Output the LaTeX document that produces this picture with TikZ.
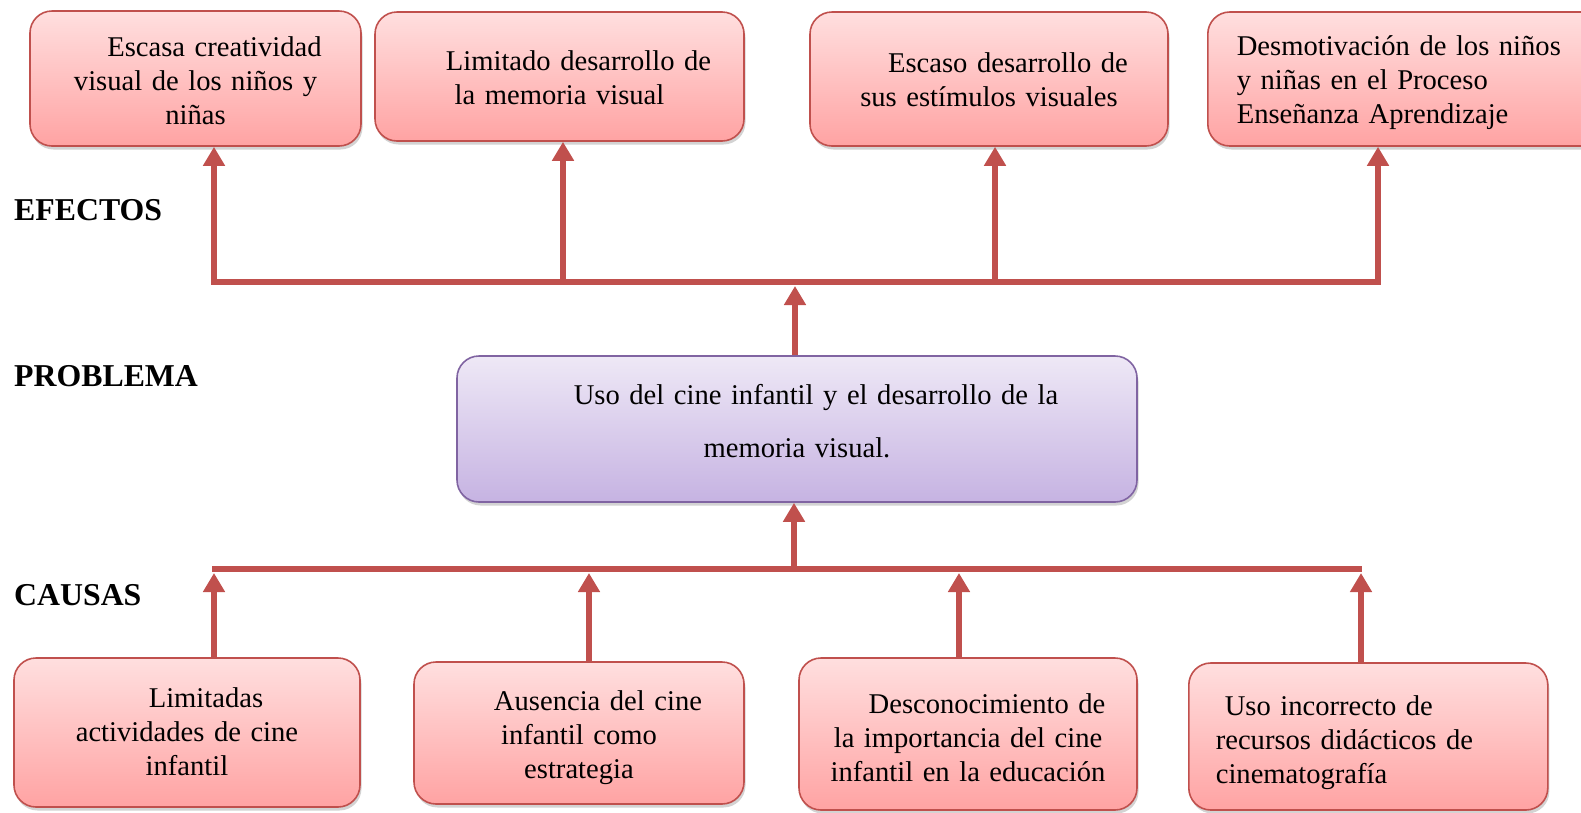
\documentclass[tikz,border=0pt]{standalone}
\usepackage{fontspec}
\setmainfont{Liberation Serif}
\usetikzlibrary{arrows.meta,shadows}
\definecolor{boxred}{HTML}{C0504D}
\definecolor{redtop}{HTML}{FFDFDF}
\definecolor{redbot}{HTML}{FFA3A3}
\definecolor{purpedge}{HTML}{8064A2}
\definecolor{purptop}{HTML}{EEE8F6}
\definecolor{purpbot}{HTML}{C6B3E2}
\newcommand\toprl[1]{\rule{0pt}{#1pt}}
\newcommand\botrl[1]{\rule[-#1pt]{0pt}{0pt}}
\tikzset{
  redbox/.style={draw=boxred, line width=1.6pt, rounded corners=22pt,
    top color=redtop, bottom color=redbot,
    drop shadow={shadow xshift=1.5pt, shadow yshift=-3.5pt, opacity=0.35},
    inner sep=0pt, align=center, font=\fontsize{28.6}{34}\selectfont},
  purpbox/.style={draw=purpedge, line width=1.6pt, rounded corners=22pt,
    top color=purptop, bottom color=purpbot,
    drop shadow={shadow xshift=1.5pt, shadow yshift=-3.5pt, opacity=0.35},
    inner sep=0pt, align=center, font=\fontsize{28.6}{53}\selectfont},
  lab/.style={inner sep=0pt, anchor=base west, font=\fontsize{31.8}{36}\selectfont\bfseries},
  conn/.style={draw=boxred, line width=6.5pt},
  arr/.style={draw=boxred, line width=6.5pt, -{Triangle[width=21pt,length=19pt]}}
}
\begin{document}
\begin{tikzpicture}[x=1pt,y=-1pt]
\useasboundingbox (0,0) rectangle (1581,812);

% effects
\node[redbox, minimum width=331pt, text width=331pt, minimum height=135pt] (e1) at (195.5,78.5)
  {\toprl{35}\hspace*{38pt}Escasa creatividad\\ visual de los niños y\\ niñas\botrl{12}};
\node[redbox, minimum width=369pt, text width=369pt, minimum height=129pt] (e2) at (559.5,76.5)
  {\toprl{33}\hspace*{38pt}Limitado desarrollo de\\ la memoria visual\botrl{12}};
\node[redbox, minimum width=358pt, text width=358pt, minimum height=134pt] (e3) at (989,79)
  {\toprl{32.4}\hspace*{38pt}Escaso desarrollo de\\ sus estímulos visuales\botrl{12}};
\node[redbox, anchor=west, align=left, inner xsep=29pt, text width=345pt, minimum height=134pt] (e4) at (1207,79)
  {\toprl{33.4}Desmotivación de los niños\\ y niñas en el Proceso\\ Enseñanza Aprendizaje\botrl{12}};

% problem
\node[purpbox, minimum width=680pt, text width=680pt, minimum height=146pt] (p) at (797,429)
  {\toprl{34}\hspace*{38pt}Uso del cine infantil y el desarrollo de la\\ memoria visual.\botrl{30}};

% causes
\node[redbox, minimum width=346pt, text width=346pt, minimum height=149pt] (b1) at (187,732.5)
  {\toprl{29}\hspace*{38pt}Limitadas\\ actividades de cine\\ infantil\botrl{12}};
\node[redbox, minimum width=330pt, text width=330pt, minimum height=142pt] (b2) at (579,733)
  {\toprl{34}\hspace*{38pt}Ausencia del cine\\ infantil como\\ estrategia\botrl{12}};
\node[redbox, minimum width=338pt, text width=338pt, minimum height=152pt] (b3) at (968,734)
  {\toprl{38}\hspace*{38pt}Desconocimiento de\\ la importancia del cine\\ infantil en la educación\botrl{12}};
\node[redbox, anchor=west, align=left, inner xsep=27pt, text width=305pt, minimum height=147pt] (b4) at (1188,736.5)
  {\toprl{37}\hspace*{9pt}Uso incorrecto de\\ recursos didácticos de\\ cinematografía\botrl{12}};

% labels
\node[lab] (lef) at (14,220) {EFECTOS};
\node[lab] (lpr) at (14,386) {PROBLEMA};
\node[lab] (lca) at (14,605) {CAUSAS};

% top connectors
\coordinate (tl) at (211,282);
\coordinate (tr) at (1381,282);
\draw[conn] (tl) -- (tr);
\coordinate (t1) at (214,282);
\coordinate (t2) at (563,282);
\coordinate (t3) at (995,282);
\coordinate (t4) at (1378,282);
\draw[arr] (t1) -- (t1 |- e1.south);
\draw[arr] (t2) -- (t2 |- e2.south);
\draw[arr] (t3) -- (t3 |- e3.south);
\draw[arr] (t4) -- (t4 |- e4.south);
\coordinate (pu) at (795,286);
\draw[arr] (pu |- p.north) -- (pu);

% bottom connectors
\coordinate (bl) at (212,569);
\coordinate (br) at (1362,569);
\draw[conn] (bl) -- (br);
\coordinate (pd) at (794,569);
\draw[arr] (pd) -- (pd |- p.south);
\coordinate (c1) at (214,573);
\coordinate (c2) at (589,573);
\coordinate (c3) at (959,573);
\coordinate (c4) at (1361,573);
\draw[arr] (c1 |- b1.north) -- (c1);
\draw[arr] (c2 |- b2.north) -- (c2);
\draw[arr] (c3 |- b3.north) -- (c3);
\draw[arr] (c4 |- b4.north) -- (c4);
\end{tikzpicture}
\end{document}
